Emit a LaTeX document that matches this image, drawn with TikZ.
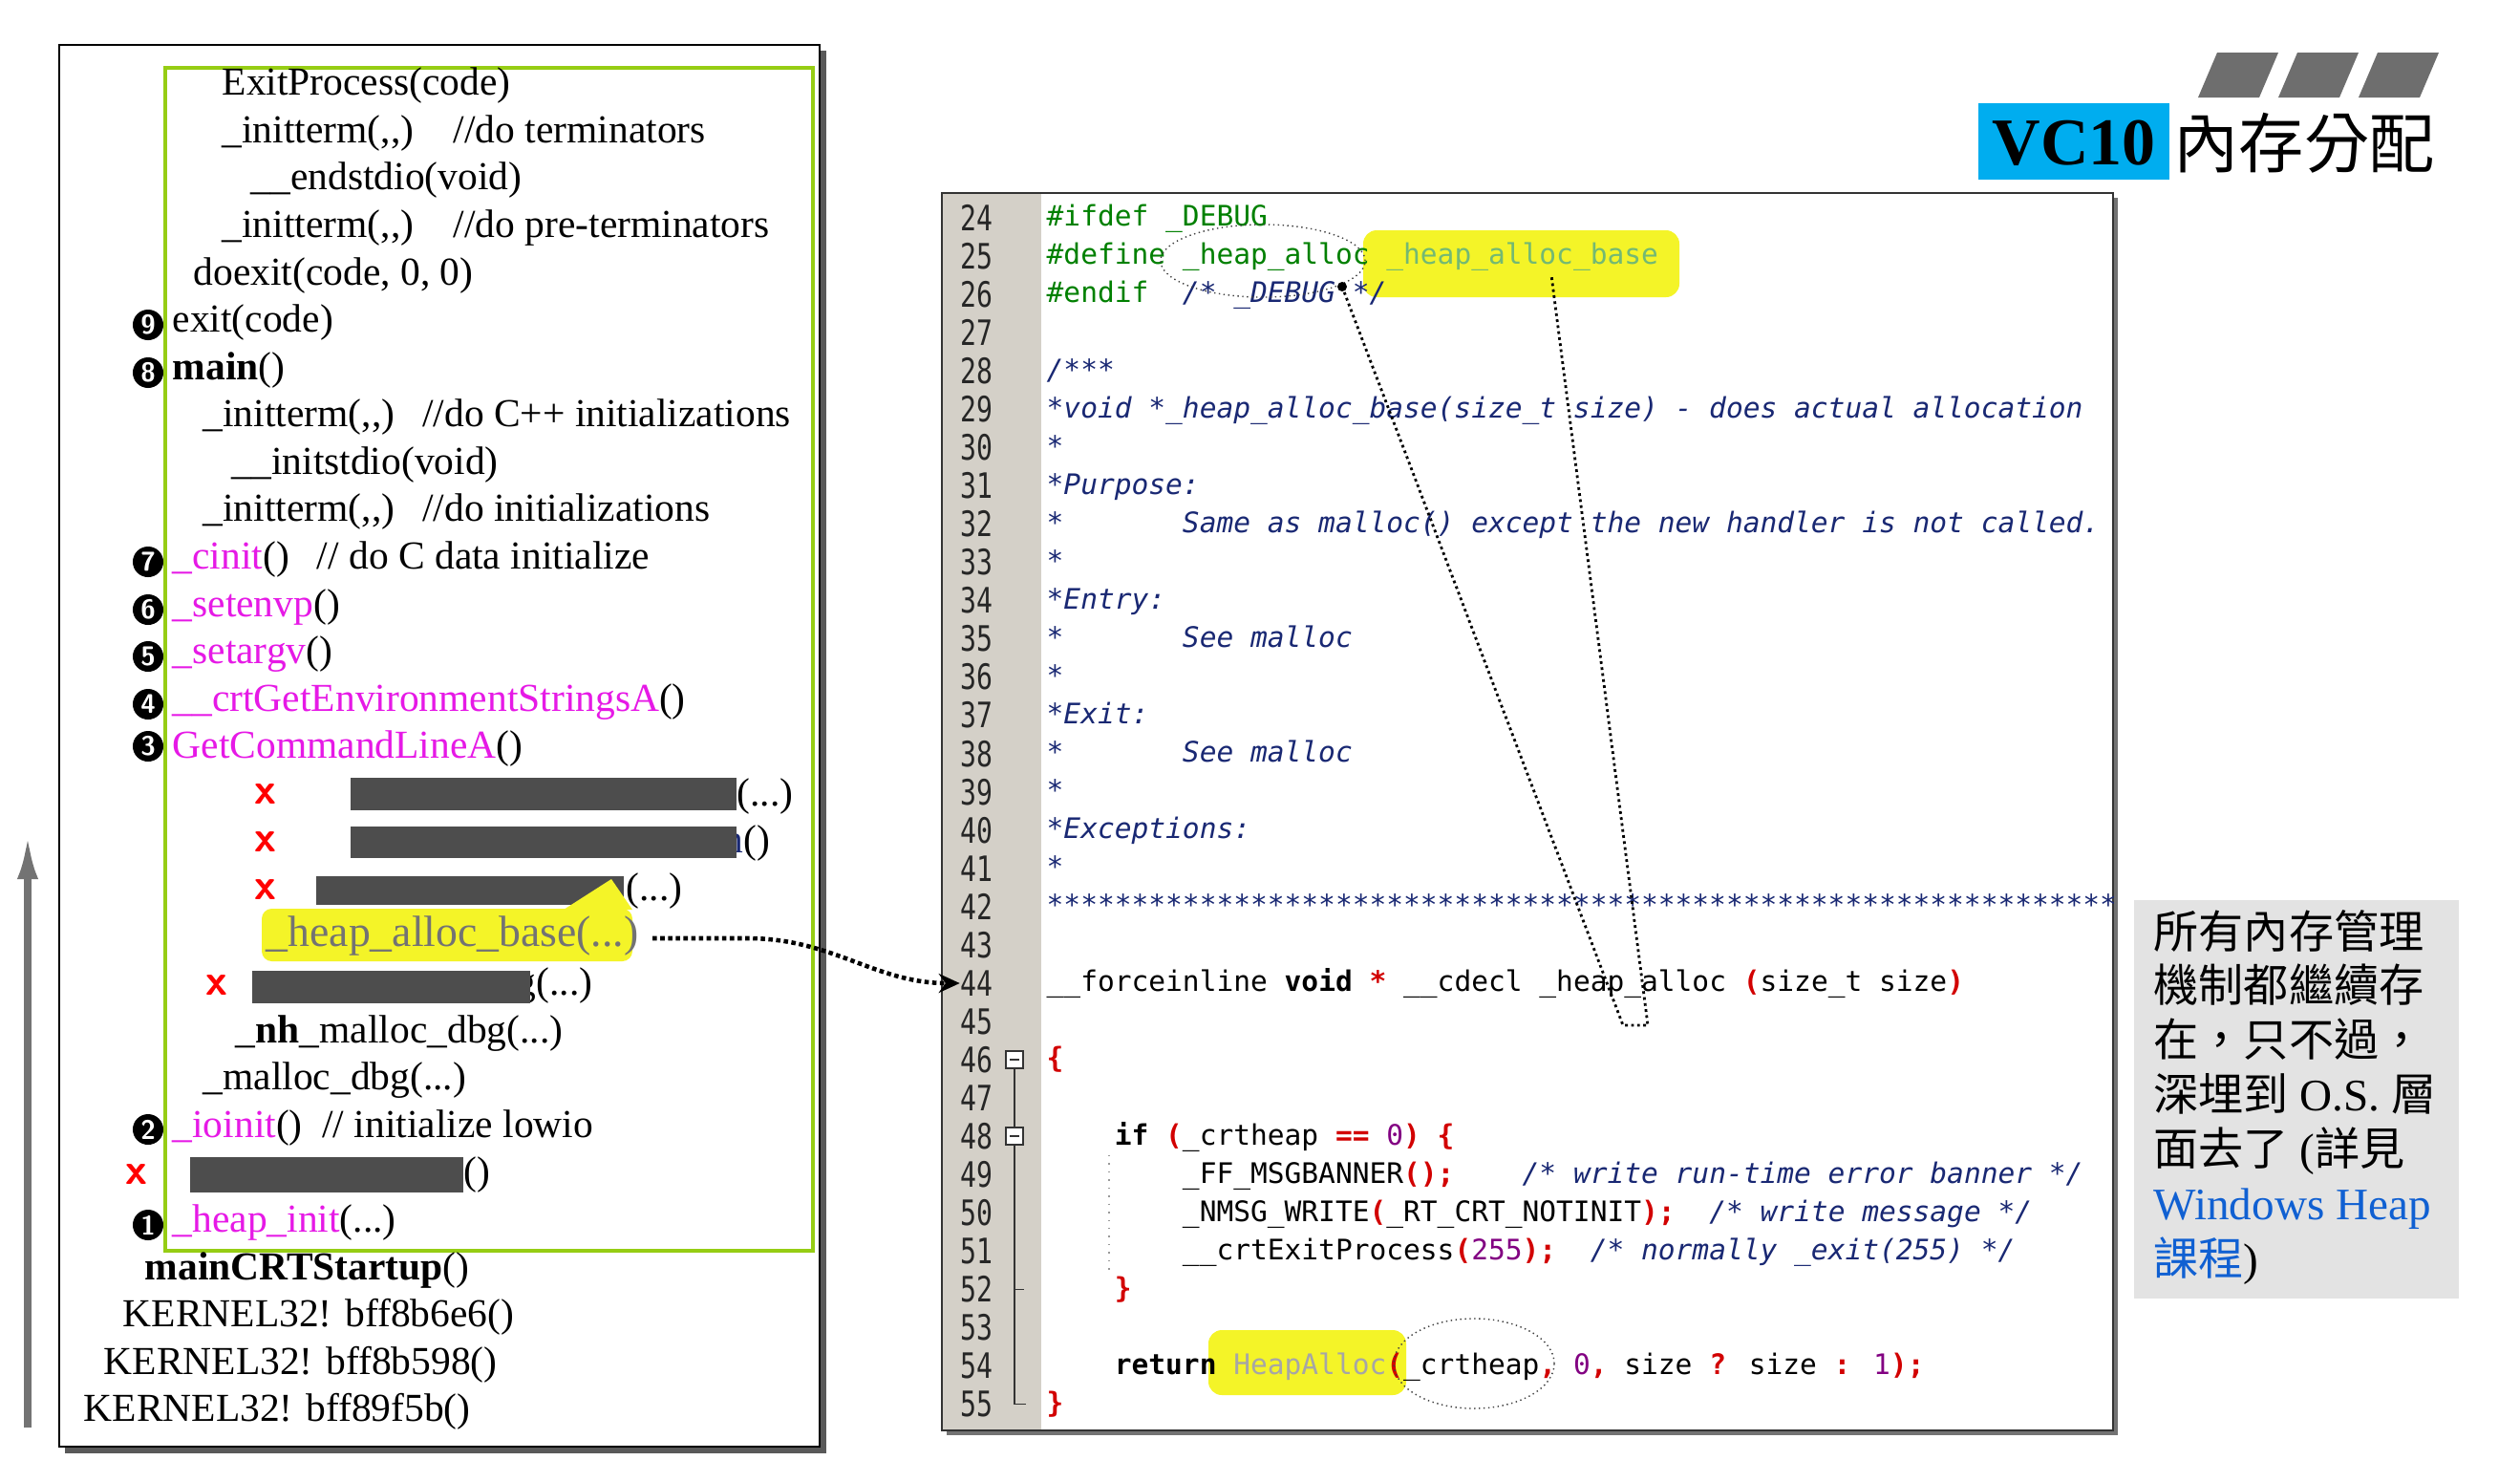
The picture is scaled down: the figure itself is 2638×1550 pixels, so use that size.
\documentclass[tikz,border=0pt]{standalone}
\usepackage{fontspec}
\usepackage{graphicx}
\setmainfont{Liberation Serif}
\newfontfamily\codefont{DejaVu Sans Mono}
\newfontfamily\cjk{Noto Sans CJK TC}
\usetikzlibrary{arrows.meta, positioning, calc}

\definecolor{lime}{RGB}{150,205,20}
\definecolor{fnpink}{RGB}{230,25,230}
\definecolor{hideg}{RGB}{77,77,77}
\definecolor{hlyellow}{RGB}{244,244,40}
\definecolor{kwgreen}{RGB}{0,128,0}
\definecolor{cmtblue}{RGB}{25,40,115}
\definecolor{brred}{RGB}{210,0,0}
\definecolor{numpurple}{RGB}{130,0,130}
\definecolor{gutter}{RGB}{212,208,200}
\definecolor{notegray}{RGB}{227,227,227}
\definecolor{linkblue}{RGB}{16,96,210}
\definecolor{barsgray}{RGB}{110,110,110}

\newcommand\gap[1]{\hspace*{#1\dimexpr0.602em\relax}}
\newcommand\cmt[1]{\textcolor{cmtblue}{\itshape #1}}
\newcommand\br[1]{\textcolor{brred}{\bfseries #1}}
\newcommand\nm[1]{\textcolor{numpurple}{#1}}
\newcommand\fnc[1]{\textcolor{fnpink}{#1}}

\begin{document}
\begin{tikzpicture}[
    x=0.01cm, y=-0.01cm,
    ln/.style={anchor=west, inner sep=0pt, text height=0.75em, text depth=0.25em, font=\fontsize{11.8}{14}\selectfont},
    num/.style={circle, fill=black, text=white, inner sep=0pt, minimum size=0.32cm, font=\sffamily\bfseries\fontsize{8}{8}\selectfont},
    xmark/.style={text=red, inner sep=0pt, font=\sffamily\bfseries\fontsize{13}{13}\selectfont},
    cl/.style={anchor=west, inner sep=0pt, text height=0.75em, text depth=0.25em, font=\codefont\fontsize{8.4}{10}\selectfont},
    lnum/.style={anchor=east, inner sep=0pt, text=black!85, font=\codefont\fontsize{8}{9}\selectfont},
    note/.style={anchor=west, inner sep=0pt, text height=0.75em, text depth=0.25em, font=\fontsize{13.4}{16}\selectfont}
  ]
  \useasboundingbox (0,0) rectangle (2638,1550);
  \fill[white] (0,0) rectangle (2638,1550);

  % call stack
  \fill[black!65] (68,53) rectangle (865,1521);
  \draw[fill=white, line width=0.8pt] (62,47) rectangle (858,1514);
  \draw[lime, line width=1.2pt] (173,71) rectangle (851,1309);

  \node[ln] (exitproc) at (232,91) {ExitProcess(code)};
  \node[ln] (termA) at (232,140.6) {\_initterm(,{},)\quad //do terminators};
  \node[ln] (endstdio) at (262,190.1) {\_\_endstdio(void)};
  \node[ln] (termB) at (232,239.7) {\_initterm(,{},)\quad //do pre-terminators};
  \node[ln] (doexit) at (202,289.3) {doexit(code, 0, 0)};
  \node[num] (n9) at (155,340) {9};
  \node[ln] (exit) at (180,338.9) {exit(code)};
  \node[num] (n8) at (155,390) {8};
  \node[ln] (main) at (180,388.4) {\textbf{main}()};
  \node[ln] (termC) at (212,438) {\_initterm(,{},)\hspace{0.7em}//do C++ initializations};
  \node[ln] (initstdio) at (242,487.6) {\_\_initstdio(void)};
  \node[ln] (termD) at (212,537.1) {\_initterm(,{},)\hspace{0.7em}//do initializations};
  \node[num] (n7) at (155,588) {7};
  \node[ln] (cinit) at (180,586.7) {\fnc{\_cinit}()\hspace{0.7em}// do C data initialize};
  \node[num] (n6) at (155,638) {6};
  \node[ln] (setenvp) at (180,636.3) {\fnc{\_setenvp}()};
  \node[num] (n5) at (155,687) {5};
  \node[ln] (setargv) at (180,685.8) {\fnc{\_setargv}()};
  \node[num] (n4) at (155,737) {4};
  \node[ln] (envstr) at (180,735.4) {\fnc{\_\_crtGetEnvironmentStringsA}()};
  \node[num] (n3) at (155,781) {3};
  \node[ln] (cmdline) at (180,785) {\fnc{GetCommandLineA}()};

  \node[xmark] (x1) at (278,831) {x};
  \node[ln] (r1) at (771,834.6) {(...)};
  \fill[hideg] (367,814) rectangle (771,848);
  \node[xmark] (x2) at (278,881) {x};
  \node[ln] (r2) at (757,884.1) {\textcolor{cmtblue}{n}()};
  \fill[hideg] (367,865) rectangle (771,898);
  \node[xmark] (x3) at (278,931) {x};
  \node[ln] (r3) at (655,933.7) {(...)};
  \fill[hideg] (331,917) rectangle (653,947);
  \fill[hlyellow, rounded corners=3pt] (274,951) rectangle (662,1006);
  \fill[hlyellow] (590,952) -- (640,920) -- (662,952) -- cycle;
  \node[ln, text=black!55, font=\fontsize{13}{15}\selectfont] (hab) at (278,982) {\_heap\_alloc\_base(...)};
  \node[xmark] (x4) at (227,1031) {x};
  \node[ln] (r4) at (540,1032.8) {g(...)};
  \fill[hideg] (264,1016) rectangle (555,1050);
  \node[ln] (nhmalloc) at (246,1082.4) {\_\textbf{nh}\_malloc\_dbg(...)};
  \node[ln] (mallocdbg) at (212,1132) {\_malloc\_dbg(...)};
  \node[num] (n2) at (155,1182) {2};
  \node[ln] (ioinit) at (180,1181.5) {\fnc{\_ioinit}()\ \ // initialize lowio};
  \node[xmark] (x5) at (143,1229) {x};
  \node[ln] (r5) at (485,1231.1) {()};
  \fill[hideg] (199,1211) rectangle (485,1248);
  \node[num] (n1) at (155,1282) {1};
  \node[ln] (heapinit) at (180,1280.7) {\fnc{\_heap\_init}(...)};
  \node[ln] (crtstart) at (151,1330.3) {\textbf{mainCRTStartup}()};
  \node[ln] (kern1) at (128,1379.8) {KERNEL32! bff8b6e6()};
  \node[ln] (kern2) at (108,1429.4) {KERNEL32! bff8b598()};
  \node[ln] (kern3) at (87,1479) {KERNEL32! bff89f5b()};

  \coordinate (upbot) at (29,1494);
  \coordinate (uptop) at (29,875);
  \draw[black!55, line width=2pt, -{Latex[length=0.45cm,width=0.22cm]}] (upbot) -- (uptop);

  % source listing
  \fill[black!55] (991,207) rectangle (2217,1502);
  \draw[draw=black!80, fill=white, line width=0.8pt] (986,202) rectangle (2212,1497);
  \fill[gutter] (987,203) rectangle (1090,1496);
  \foreach \lno in {24,...,55}
    \node[lnum] (l\lno) at (1040,{228+(\lno-24)*40.05}) {\scalebox{1}[1.3]{\lno}};

  \draw[black!80, fill=white] (1053,1100) rectangle (1071,1118);
  \draw[black!80] (1057,1109) -- (1067,1109);
  \draw[black!80, fill=white] (1053,1180) rectangle (1071,1198);
  \draw[black!80] (1057,1189) -- (1067,1189);
  \draw[black!80] (1062,1118) -- (1062,1180);
  \draw[black!80] (1062,1198) -- (1062,1469.6) -- (1074,1469.6);
  \draw[black!80] (1062,1349.4) -- (1072,1349.4);
  \draw[dotted, black!40] (1161,1209) -- (1161,1333);

  \fill[hlyellow, rounded corners=4pt] (1427,241) rectangle (1758,311);
  \fill[hlyellow, rounded corners=4pt] (1265,1392) rectangle (1472,1460);

  \begin{scope}
    \clip (986,202) rectangle (2212,1497);
    \node[cl] (c24) at (1095,228) {\textcolor{kwgreen}{\#ifdef \_DEBUG}};
    \node[cl] (c25) at (1095,268) {\textcolor{kwgreen}{\#define \_heap\_alloc }\textcolor{kwgreen!55}{\_heap\_alloc\_base}};
    \node[cl] (c26) at (1095,308.1) {\textcolor{kwgreen}{\#endif}\gap{2}\cmt{/* \_DEBUG */}};
    \node[cl] (c28) at (1095,388.2) {\cmt{/***}};
    \node[cl] (c29) at (1095,428.3) {\cmt{*void *\_heap\_alloc\_base(size\_t size) - does actual allocation}};
    \node[cl] (c30) at (1095,468.3) {\cmt{*}};
    \node[cl] (c31) at (1095,508.4) {\cmt{*Purpose:}};
    \node[cl] (c32) at (1095,548.4) {\cmt{*\gap{7}Same as malloc() except the new handler is not called.}};
    \node[cl] (c33) at (1095,588.5) {\cmt{*}};
    \node[cl] (c34) at (1095,628.5) {\cmt{*Entry:}};
    \node[cl] (c35) at (1095,668.6) {\cmt{*\gap{7}See malloc}};
    \node[cl] (c36) at (1095,708.6) {\cmt{*}};
    \node[cl] (c37) at (1095,748.7) {\cmt{*Exit:}};
    \node[cl] (c38) at (1095,788.7) {\cmt{*\gap{7}See malloc}};
    \node[cl] (c39) at (1095,828.8) {\cmt{*}};
    \node[cl] (c40) at (1095,868.8) {\cmt{*Exceptions:}};
    \node[cl] (c41) at (1095,908.9) {\cmt{*}};
    \node[cl] (c42) at (1095,948.9) {\cmt{***************************************************************}};
    \node[cl] (c44) at (1095,1029) {\_\_forceinline \textbf{void} \br{*} \_\_cdecl \_heap\_alloc \br{(}size\_t size\br{)}};
    \node[cl] (c46) at (1095,1109.1) {\br{\{}};
    \node[cl] (c48) at (1095,1189.2) {\gap{4}\textbf{if} \br{(}\_crtheap \br{==} \nm{0}\br{)} \br{\{}};
    \node[cl] (c49) at (1095,1229.3) {\gap{8}\_FF\_MSGBANNER\br{();}\gap{4}\cmt{/* write run-time error banner */}};
    \node[cl] (c50) at (1095,1269.3) {\gap{8}\_NMSG\_WRITE\br{(}\_RT\_CRT\_NOTINIT\br{);}\gap{2}\cmt{/* write message */}};
    \node[cl] (c51) at (1095,1309.4) {\gap{8}\_\_crtExitProcess\br{(}\nm{255}\br{);}\gap{2}\cmt{/* normally \_exit(255) */}};
    \node[cl] (c52) at (1095,1349.4) {\gap{4}\br{\}}};
    \node[cl] (c54) at (1095,1429.5) {\gap{4}\textbf{return} \textcolor{black!35}{HeapAlloc}\br{(}\_crtheap\br{,} \nm{0}\br{,} size \br{?} size \br{:} \nm{1}\br{);}};
    \node[cl] (c55) at (1095,1469.6) {\br{\}}};
  \end{scope}

  \draw[densely dotted, black!75] (1322,273) ellipse [x radius=1.07cm, y radius=0.38cm];
  \draw[densely dotted, black!75] (1543,1427) ellipse [x radius=0.84cm, y radius=0.47cm];
  \coordinate (dbg) at (1405,300);
  \coordinate (base) at (1624,288);
  \coordinate (vl) at (1699,1073);
  \coordinate (vr) at (1725,1073);
  \draw[densely dotted, line width=0.8pt] (dbg) -- (vl) -- (vr) -- (base);
  \fill (dbg) circle[radius=0.05cm];

  \draw[densely dotted, line width=1.3pt, -{Stealth[length=0.22cm,width=0.2cm]}] (hab.east) ++(14,0) -- ++(100,0) to[out=0,in=180] (l44.west);

  % title
  \foreach \k in {0,1,2}
    \fill[barsgray] ({2301+84*\k},102) -- ++(64,0) -- ++(20,-47) -- ++(-64,0) -- cycle;
  \fill[cyan] (2071,108) rectangle (2271,188);
  \node[font=\bfseries\fontsize{19.9}{22}\selectfont] (vc) at (2171,150) {VC10};
  \node[anchor=west, inner sep=0pt, font=\cjk\fontsize{19.4}{22}\selectfont] (ttl) at (2275,150) {內存分配};

  % note
  \fill[notegray] (2234,942) rectangle (2574,1359);
  \node[note] (t1) at (2254,984) {\cjk 所有內存管理};
  \node[note] (t2) at (2254,1040) {\cjk 機制都繼續存};
  \node[note] (t3) at (2254,1097) {\cjk 在，只不過，};
  \node[note] (t4) at (2254,1154) {{\cjk 深埋到} O.S. {\cjk 層}};
  \node[note] (t5) at (2254,1211) {{\cjk 面去了} ({\cjk 詳見}};
  \node[note] (t6) at (2254,1268) {\textcolor{linkblue}{Windows Heap}};
  \node[note] (t7) at (2254,1326) {\textcolor{linkblue}{\cjk 課程})};
\end{tikzpicture}
\end{document}
